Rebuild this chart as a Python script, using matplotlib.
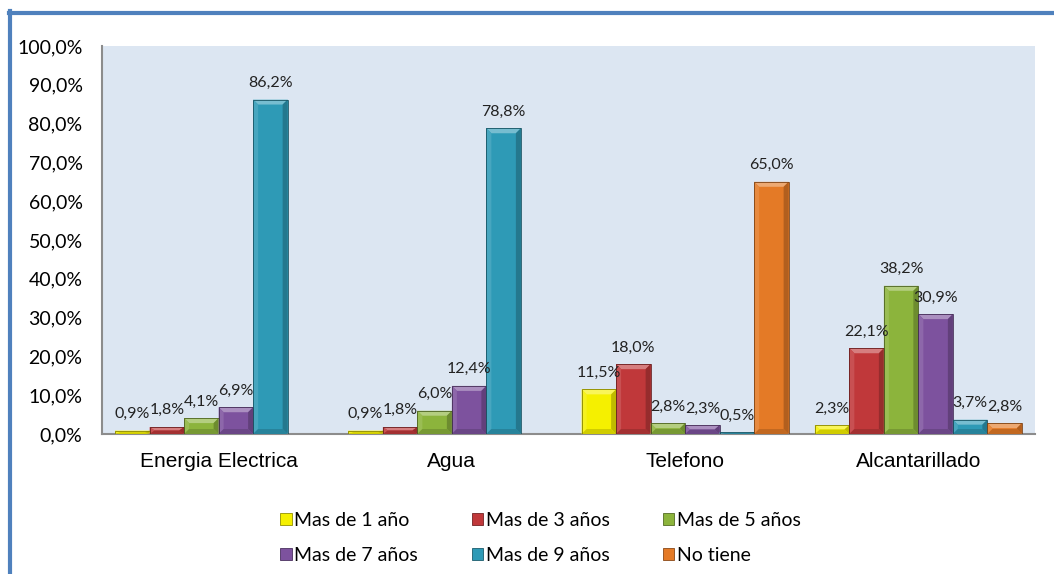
import numpy as np
import matplotlib
matplotlib.use("Agg")
import matplotlib.pyplot as plt
from matplotlib.patches import Polygon, Rectangle
from matplotlib.lines import Line2D
import matplotlib.colors as mcolors

# datos
categorias = ["Energia Electrica", "Agua", "Telefono", "Alcantarillado"]
series = ["Mas de 1 año", "Mas de 3 años", "Mas de 5 años",
          "Mas de 7 años", "Mas de 9 años", "No tiene"]
mas_1 = [0.9, 0.9, 11.5, 2.3]
mas_3 = [1.8, 1.8, 18.0, 22.1]
mas_5 = [4.1, 6.0, 2.8, 38.2]
mas_7 = [6.9, 12.4, 2.3, 30.9]
mas_9 = [86.2, 78.8, 0.5, 3.7]
no_tiene = [0.0, 0.0, 65.0, 2.8]
valores = [mas_1, mas_3, mas_5, mas_7, mas_9, no_tiene]
colores = ["#F5F000", "#C0383A", "#8CB43C", "#7D529E", "#2E9AB6", "#E47A26"]
yticks = np.arange(0, 101, 10)

W, H, DPI = 1054, 574, 100
fig = plt.figure(figsize=(W / DPI, H / DPI), dpi=DPI)
fig.patch.set_facecolor("white")

left, right, bottom, top = 102, 1035, 434, 46
ax = fig.add_axes([left / W, (H - bottom) / H, (right - left) / W, (bottom - top) / H])
ax.set_facecolor("#DCE6F2")
ax.set_xlim(-0.5, 3.5)
ax.set_ylim(0, 100)

px_x = (right - left) / 4.0   # pixels por unidad x
px_y = (bottom - top) / 100.0  # pixels por unidad y

n = len(series)
ancho = 0.8875 / n


def tono(c, f):
    r, g, b = mcolors.to_rgb(c)
    if f >= 1:
        return (r + (1 - r) * (f - 1), g + (1 - g) * (f - 1), b + (1 - b) * (f - 1))
    return (r * f, g * f, b * f)


def barra_bisel(x0, w, h, color):
    # barra con efecto bisel estilo Excel
    bx = 5 / px_x
    by = min(5 / px_y, h / 2)
    x1 = x0 + w
    ax.add_patch(Rectangle((x0, 0), w, h, facecolor=color, edgecolor="none", zorder=2))
    # cara superior (clara)
    ax.add_patch(Polygon([(x0, h), (x1, h), (x1 - bx, h - by), (x0 + bx, h - by)],
                         closed=True, facecolor=tono(color, 1.35), edgecolor="none", zorder=3))
    # lado izquierdo
    ax.add_patch(Polygon([(x0, 0), (x0, h), (x0 + bx, h - by), (x0 + bx, by)],
                         closed=True, facecolor=tono(color, 1.12), edgecolor="none", zorder=3))
    # lado derecho (oscuro)
    ax.add_patch(Polygon([(x1, 0), (x1, h), (x1 - bx, h - by), (x1 - bx, by)],
                         closed=True, facecolor=tono(color, 0.78), edgecolor="none", zorder=3))
    # base
    ax.add_patch(Polygon([(x0, 0), (x1, 0), (x1 - bx, by), (x0 + bx, by)],
                         closed=True, facecolor=tono(color, 0.85), edgecolor="none", zorder=3))
    ax.add_patch(Rectangle((x0, 0), w, h, facecolor="none",
                           edgecolor=tono(color, 0.55), linewidth=0.6, zorder=4))


x = np.arange(len(categorias))
for i, (serie, vals, col) in enumerate(zip(series, valores, colores)):
    xs = x - 0.8875 / 2 + i * ancho
    for xi, v in zip(xs, vals):
        if v <= 0:
            continue
        barra_bisel(xi, ancho, v, col)
        ax.annotate(f"{v:.1f}%".replace(".", ","), (xi + ancho / 2, v),
                    xytext=(0, 12), textcoords="offset points",
                    ha="center", va="center", fontsize=11.5,
                    family=["Lato", "DejaVu Sans"], color="#222222", zorder=5)

ax.set_xticks(x)
ax.set_xticklabels(categorias, fontsize=15, family="Liberation Sans")
ax.set_yticks(yticks)
ax.set_yticklabels([f"{t:.1f}%".replace(".", ",") for t in yticks],
                   fontsize=14, family="Lato")
ax.tick_params(axis="y", length=0, pad=14)
ax.tick_params(axis="x", length=0, pad=13)
for s in ["top", "right"]:
    ax.spines[s].set_visible(False)
for s in ["left", "bottom"]:
    ax.spines[s].set_color("#8C8C8C")
    ax.spines[s].set_linewidth(1.5)

# leyenda (orden por filas como en Excel)
orden = [0, 3, 1, 4, 2, 5]
handles = [Rectangle((0, 0), 1, 1, facecolor=colores[k], edgecolor=tono(colores[k], 0.6),
                     linewidth=0.6) for k in orden]
etiquetas = [series[k] for k in orden]
leg = fig.legend(handles, etiquetas, loc="center", bbox_to_anchor=(0.513, 1 - 538 / H),
                 ncol=3, frameon=False, prop={"family": "Lato", "size": 14},
                 handlelength=0.57, handleheight=0.57, handletextpad=0.15,
                 columnspacing=2.75, labelspacing=0.9)

# borde azul
fig.add_artist(Line2D([10 / W, 10 / W], [0, 1 - 11 / H], color="#4F81BD",
                      linewidth=3, transform=fig.transFigure))
fig.add_artist(Line2D([8.5 / W, 1], [1 - 13 / H, 1 - 13 / H], color="#4F81BD",
                      linewidth=3, transform=fig.transFigure))

fig.savefig("out.png", dpi=DPI)
